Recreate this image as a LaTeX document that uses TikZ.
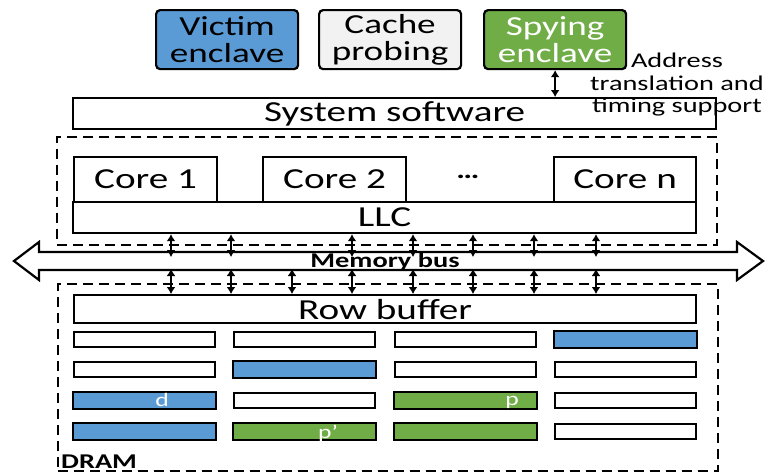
\documentclass[tikz,border=0pt]{standalone}
\usepackage{fontspec}
\setmainfont{Carlito}
\usetikzlibrary{arrows.meta}
\definecolor{vblue}{HTML}{5B9BD5}
\definecolor{sgreen}{HTML}{70AD47}
\definecolor{cgray}{HTML}{F2F2F2}
\newcommand\wideX[1]{\scalebox{1.35}[1]{#1}}
\tikzset{
  box/.style={draw, line width=2.2pt, inner sep=0pt, anchor=north west, fill=white, font=\fontsize{29}{30}\selectfont},
  topbox/.style={draw, line width=2.2pt, rounded corners=4pt, inner sep=0pt, anchor=north west,
     minimum width=142, minimum height=59, align=center, font=\fontsize{27.5}{27}\selectfont},
  cell/.style={draw, line width=2.3pt, inner sep=0pt, anchor=north west, minimum width=141, minimum height=15},
  dashbox/.style={draw, line width=1.8pt, dash pattern=on 10pt off 6pt},
  dbl/.style={line width=1.9pt, {Latex[length=7pt,width=9pt]}-{Latex[length=7pt,width=9pt]}},
  celltext/.style={text=white, font=\fontsize{19}{19}\selectfont, inner sep=0pt},
}
\begin{document}
\begin{tikzpicture}[x=1pt,y=-1pt]
\useasboundingbox (0,0) rectangle (775,475);
% top boxes
\node[topbox, fill=vblue] (victim) at (155,9) {\wideX{Victim}\\\wideX{enclave}};
\node[topbox, fill=cgray] (probe) at (318,9) {\wideX{Cache}\\\wideX{probing}};
\node[topbox, fill=sgreen, text=white] (spy) at (483,9) {\wideX{Spying}\\\wideX{enclave}};
% system software
\node[box, minimum width=643, minimum height=31] (sys) at (72,97) {\wideX{System software}};
\draw[dbl] (spy.south) -- (spy.south |- sys.north);
\node[align=center, font=\fontsize{21}{22.5}\selectfont, inner sep=0pt] (addr) at (677,85) {\wideX{Address}\\\wideX{translation and}\\\wideX{timing support}};
% CPU
\node[dashbox, minimum width=660, minimum height=108, anchor=north west] (cpu) at (56,136) {};
\node[box, minimum width=623, minimum height=31] (llc) at (72,201) {\wideX{LLC}};
\node[box, minimum width=143, minimum height=45] (c1) at (73,156) {\wideX{Core 1}};
\node[box, minimum width=143, minimum height=45] (c2) at (262,156) {\wideX{Core 2}};
\node[font=\bfseries\fontsize{24}{26}\selectfont] (dots) at (468,177) {\wideX{…}};
\node[box, minimum width=142, minimum height=45] (cn) at (553,156) {\wideX{Core n}};
% memory bus
\draw[line width=2.2pt, fill=white, line join=miter]
  (14,261) -- (39,242) -- (39,252) -- (737,252) -- (737,242) -- (763,261)
  -- (737,280) -- (737,270) -- (39,270) -- (39,280) -- cycle;
% DRAM
\node[dashbox, minimum width=660, minimum height=187, anchor=north west] (dram) at (57,283) {};
\node[font=\bfseries\fontsize{21}{22}\selectfont, anchor=south west, inner sep=0pt] (dlabel) at (61,469) {\wideX{DRAM}};
\node[box, minimum width=622, minimum height=28] (rb) at (73,294) {\wideX{Row buffer}};
% arrows
\foreach \x [count=\i] in {171,231,352,413,473,534,596}{
  \coordinate (bt\i) at (\x,257);
  \draw[dbl] (llc.south -| bt\i) -- (bt\i);
}
\foreach \x [count=\i] in {171,231,292,352,413,473,534,596}{
  \coordinate (bb\i) at (\x,269);
  \draw[dbl] (bb\i) -- (rb.north -| bb\i);
}
\node[font=\bfseries\fontsize{21}{22}\selectfont] (bus) at (385,262) {\wideX{Memory bus}};
% cells
\foreach \r/\y in {1/331,2/361,3/392,4/423}{
  \foreach \c/\x in {1/73,2/233,3/394,4/554}{
    \node[cell] (r\r c\c) at (\x,\y) {};
  }
}
\foreach \n/\col in {r1c4/vblue, r2c2/vblue, r3c1/vblue, r4c1/vblue, r3c3/sgreen, r4c2/sgreen, r4c3/sgreen}{
  \draw[line width=2.3pt, fill=\col] (\n.north west) rectangle (\n.south east);
}
\node[celltext] (dlab) at (162,400) {\wideX{d}};
\node[celltext] (plab) at (512,402) {\wideX{p}};
\node[celltext] (pplab) at (328,433) {\wideX{p’}};
\end{tikzpicture}
\end{document}
